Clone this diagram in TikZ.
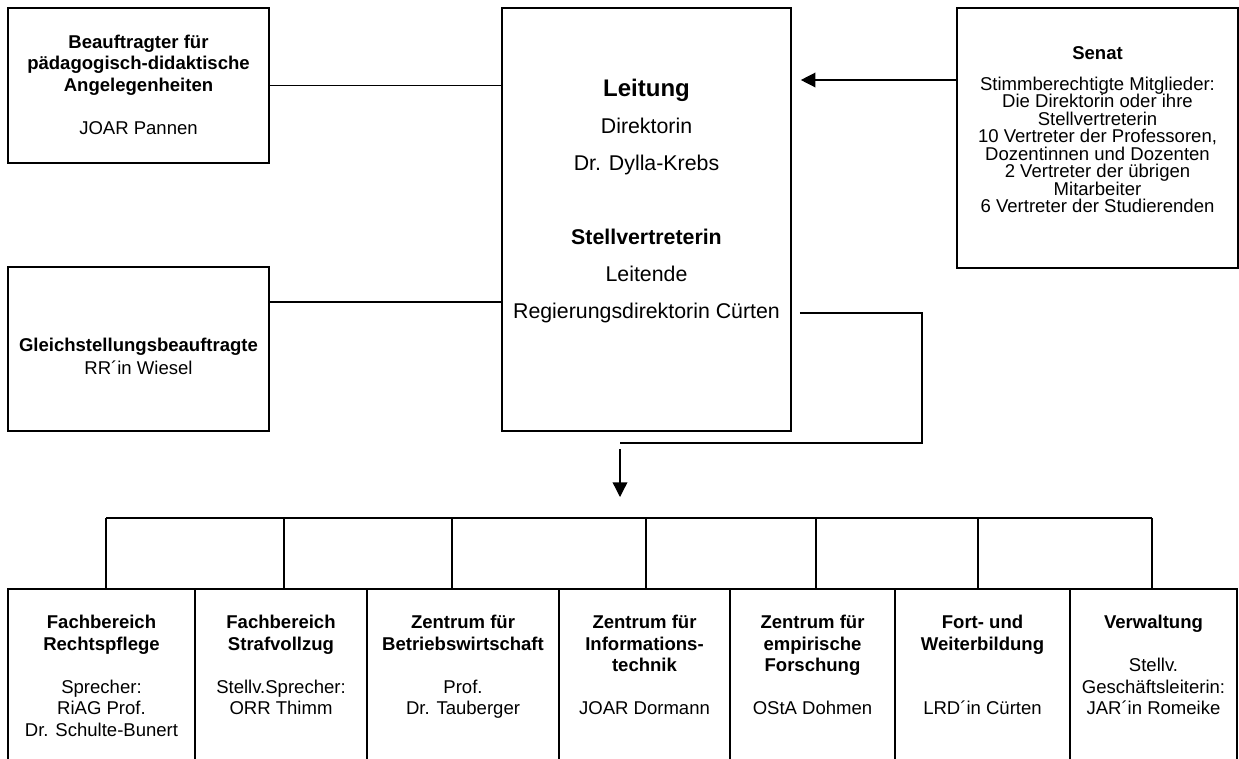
\documentclass[tikz,border=0pt]{standalone}
\usepackage{fontspec}
\setmainfont{Liberation Sans}
\usetikzlibrary{arrows.meta}
\newlength\px
\setlength\px{0.75pt}
% box text: width, height, top gap (in px), lines
\newcommand{\boxtext}[4]{\parbox[c][#2\px][t]{#1\px}{\centering\vspace*{#3\px}#4\par}}
\tikzset{
  orgbox/.style={draw, line width=1.2pt, inner sep=0pt, font=\fontsize{13.9}{16.1}\selectfont},
  unitbox/.style={orgbox, anchor=north},
  link/.style={line width=0.9pt},
  arrowline/.style={line width=1pt, -{Triangle[length=11pt,width=11pt]}}
}

\begin{document}
\begin{tikzpicture}[x=0.75pt,y=-0.75pt]
  \clip (0,0) rectangle (1239,758);
  % upper row
  \node[orgbox] (beauf) at (138.5,85.5) {\boxtext{261}{155}{27}{\textbf{Beauftragter für}\\ \textbf{pädagogisch-didaktische}\\ \textbf{Angelegenheiten}\\[16.1pt] JOAR Pannen}};
  \node[orgbox] (gleich) at (138.5,349) {\boxtext{261}{164}{71}{\textbf{Gleichstellungsbeauftragte}\\[1pt] RR´in Wiesel}};
  \node[orgbox, font=\fontsize{16}{27.75}\selectfont] (leitung) at (646.5,219.5) {\boxtext{289}{423}{71}{{\fontsize{18}{27.75}\selectfont\textbf{Leitung}}\\ Direktorin\\ Dr. Dylla-Krebs\\[27.75pt] \textbf{Stellvertreterin}\\ Leitende\\ Regierungsdirektorin Cürten}};
  \node[orgbox, font=\fontsize{13.9}{13.1}\selectfont] (senat) at (1097.5,138) {\boxtext{281}{260}{39}{\textbf{Senat}\\[9.75pt] Stimmberechtigte Mitglieder:\\ Die Direktorin oder ihre\\ Stellvertreterin\\ 10 Vertreter der Professoren,\\ Dozentinnen und Dozenten\\ 2 Vertreter der übrigen\\ Mitarbeiter\\ 6 Vertreter der Studierenden}};

  % lower row
  \node[unitbox] (fbr) at (101.5,588) {\boxtext{187}{200}{26.5}{\textbf{Fachbereich}\\ \textbf{Rechtspflege}\\[16.1pt] Sprecher:\\ RiAG Prof.\\ Dr. Schulte-Bunert}};
  \node[unitbox] (fbs) at (281,588) {\boxtext{172}{200}{26.5}{\textbf{Fachbereich}\\ \textbf{Strafvollzug}\\[16.1pt] Stellv.Sprecher:\\ ORR Thimm}};
  \node[unitbox] (zbw) at (463,588) {\boxtext{192}{200}{26.5}{\textbf{Zentrum für}\\ \textbf{Betriebswirtschaft}\\[16.1pt] Prof.\\ Dr. Tauberger}};
  \node[unitbox] (zit) at (644.5,588) {\boxtext{171}{200}{26.5}{\textbf{Zentrum für}\\ \textbf{Informations-}\\ \textbf{technik}\\[16.1pt] JOAR Dormann}};
  \node[unitbox] (zef) at (812.5,588) {\boxtext{165}{200}{26.5}{\textbf{Zentrum für}\\ \textbf{empirische}\\ \textbf{Forschung}\\[16.1pt] OStA Dohmen}};
  \node[unitbox] (fwb) at (982.5,588) {\boxtext{175}{200}{26.5}{\textbf{Fort- und}\\ \textbf{Weiterbildung}\\[32.2pt] LRD´in Cürten}};
  \node[unitbox] (verw) at (1153.5,588) {\boxtext{167}{200}{26.5}{\textbf{Verwaltung}\\[16.1pt] Stellv.\\ Geschäftsleiterin:\\ JAR´in Romeike}};

  % connectors
  \draw[link] (beauf.east) -- (beauf.east -| leitung.west);
  \draw[link] (gleich.east |- 0,302) -- (leitung.west |- 0,302);
  \draw[arrowline, shorten >=9\px] (senat.west |- 0,80) -- (leitung.east |- 0,80);

  \coordinate (turn) at (922,443);
  \coordinate (join) at (620,443);
  \coordinate (arrowtop) at (620,449);
  \coordinate (arrowtip) at (620,497);
  \draw[link, shorten <=8\px] (leitung.east |- 0,313) -| (turn) -- (join);
  \draw[arrowline] (arrowtop) -- (arrowtip);

  \coordinate (busleft) at (106,518);
  \coordinate (busright) at (1152,518);
  \draw[link] (busleft) -- (busright);
  \foreach \n/\x in {fbr/106, fbs/284, zbw/452, zit/646, zef/816, fwb/978, verw/1152}
    \draw[link] (\x,518) -- (\n.north -| \x,0);
\end{tikzpicture}
\end{document}
